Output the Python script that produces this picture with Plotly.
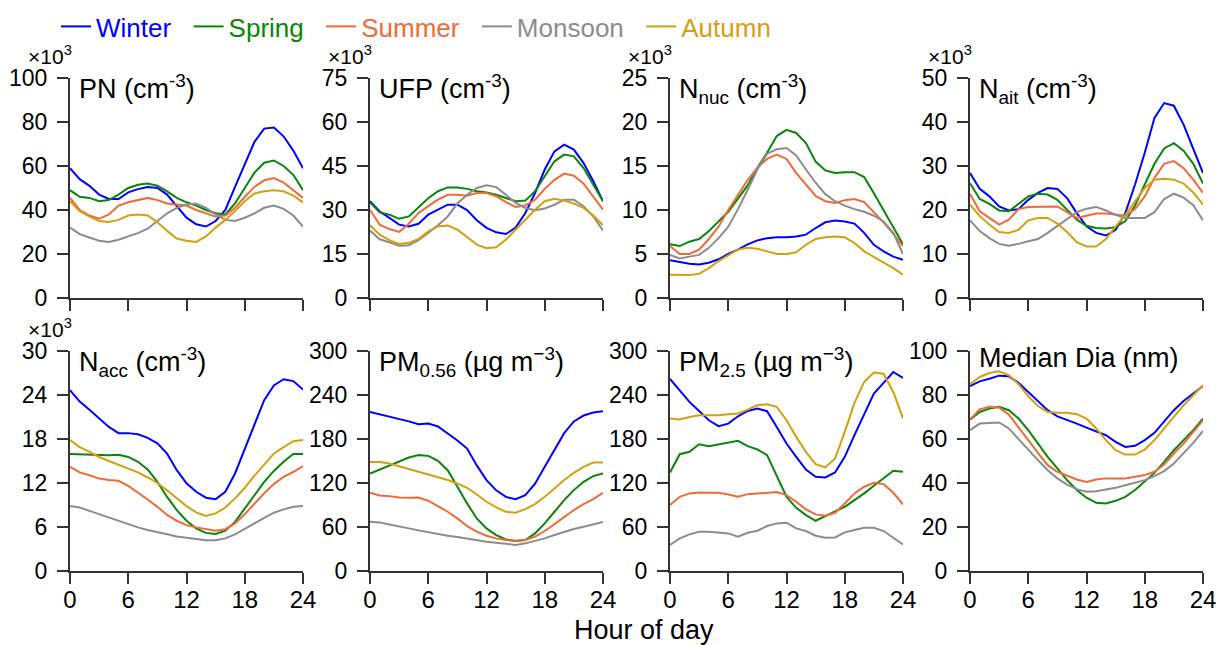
import plotly.graph_objects as go

HOURS = list(range(25))
SEASONS = ["Winter", "Spring", "Summer", "Monsoon", "Autumn"]
COLORS = ["#0000ff", "#0a850a", "#f06a38", "#8c8c8c", "#d4a010"]

PN_WINTER = [59,54,51,47,45,45,48,49.5,50.5,50,47,41.5,36.5,33.5,32.5,35,40,50.5,61,71,77,77.5,73.5,67,59]
PN_SPRING = [49,46,45.5,44,44.5,47,50,51.5,52,51,48.5,45.5,43.5,42,40,38.5,38,43,50,57,61.5,62.5,60,56,49]
PN_SUMMER = [45.5,40,37.5,36,38,42,43.5,44.5,45.5,44.5,43,42.5,42,40,38.5,37,37.5,41,46,50.5,53.5,54.5,52.5,49,45.5]
PN_MONSOON = [32,29,27.5,26,25.5,26.5,28,29.5,31.5,35,38.5,41,42.5,43,41,38,35.5,35,36.5,38.5,41,42,40.5,37.5,32.5]
PN_AUTUMN = [44,39.5,37,35,34.5,35.5,37.5,38,37.5,34.5,30.5,27,26,25.5,28,32,35.5,39.5,44,47.5,48.5,49,48.5,46.5,43.5]

UFP_WINTER = [33,29.5,27.3,25,24.4,25.3,28.4,30,31.8,31.8,30,26.5,23.9,22.4,21.8,24,29,35.8,43.8,50,52.3,50.6,46,39.8,33]
UFP_SPRING = [32.6,29.2,28.4,27,27.8,31,34,36.4,37.7,37.7,37.2,36.4,36,35.2,34,33,33.2,36.4,41.5,46.6,48.9,48.3,44.3,38.6,33]
UFP_SUMMER = [30.1,25,23.5,22.5,25.3,29,31.3,33.5,35.2,35.2,34.9,35.8,35.8,34.7,32.7,31,31.5,33.5,37.2,40.3,42.4,41.7,39,34.7,30.1]
UFP_MONSOON = [23,20,19,17.8,18,19.7,22.2,24.8,27.8,32.2,35.2,37.5,38.4,37.8,35.2,32.4,30.7,29.9,30.5,31.8,33.5,33.5,31.3,27.8,23]
UFP_AUTUMN = [24.8,21.6,19.7,18.4,18.8,20.1,22.7,24.4,24.7,23.3,20.8,18.2,17,17.3,19.9,23.3,26.7,30.1,33,33.8,33.2,32.2,30.7,28.1,24.8]

NNUC_WINTER = [4.3,4.1,3.9,3.8,4,4.4,5,5.5,6.1,6.55,6.8,6.9,6.9,7,7.2,7.95,8.6,8.8,8.7,8.45,7.4,6.05,5.3,4.7,4.35]
NNUC_SPRING = [6.1,5.9,6.4,6.7,7.6,8.7,9.8,11.3,12.8,14.8,16.5,18.4,19.1,18.75,17.6,15.5,14.5,14.2,14.3,14.3,13.75,11.9,10,8,6.1]
NNUC_SUMMER = [5.9,5,5,5.5,6.7,8.1,10,11.7,13.4,14.8,15.8,16.3,15.8,14.2,12.9,11.6,11,10.8,11.1,11.25,10.9,9.8,8.6,7.3,5.9]
NNUC_MONSOON = [4.9,4.5,4.7,4.9,5.7,6.8,8.1,10.1,12.3,14.6,16.4,16.9,17.05,16.2,14.6,13.1,11.8,11,10.5,10.1,9.8,9.35,8.7,7.4,5]
NNUC_AUTUMN = [2.65,2.6,2.6,2.75,3.4,4.2,4.9,5.5,5.7,5.6,5.3,5,5,5.2,6.05,6.7,6.9,7,6.9,6.25,5.3,4.65,4.05,3.4,2.65]

NAIT_WINTER = [28.4,24.8,23.1,20.8,19.9,20.2,22.3,23.9,25,24.8,22.7,19.3,16.3,14.8,14.2,15.5,19.3,25.8,33,40.9,44.3,43.7,39.4,34.1,28.4]
NAIT_SPRING = [26.1,22.5,21.4,19.9,19.7,21.4,23.1,23.7,23.5,22.3,20.1,17.8,16.4,15.9,15.8,16.1,17.5,21,25.8,30.5,34,35.2,33.5,30.5,26]
NAIT_SUMMER = [23.7,19.7,18.2,16.7,17.8,20.2,20.7,20.7,20.8,20.8,19.5,18.2,18.7,19.2,19.2,18.9,18.7,20.2,23.1,27.3,30.5,31.1,29.5,26.9,23.9]
NAIT_MONSOON = [17.65,15.2,13.6,12.3,11.9,12.3,12.9,13.4,14.8,16.3,17.8,19.5,20.3,20.7,19.9,18.9,18.2,18.2,18.2,19.5,22.5,23.7,22.8,21.1,17.65]
NAIT_AUTUMN = [21.2,18.6,16.7,15,14.8,15.5,17.65,18.2,18.2,16.9,15,12.7,11.7,11.7,13.4,16.3,18.9,22,25,26.9,27.1,26.9,26,24,21.2]

NACC_WINTER = [24.65,23.1,22,20.8,19.65,18.8,18.8,18.65,18.15,17.4,16,13.75,11.95,10.8,10,9.8,10.8,13.3,16.7,20.1,23.3,25.3,26.15,25.9,24.75]
NACC_SPRING = [15.95,15.9,15.95,15.8,15.8,15.85,15.55,14.9,13.85,12.15,10.1,8.3,6.85,5.8,5.2,5.05,5.5,6.7,8.55,10.35,12.15,13.65,14.9,15.95,15.95]
NACC_SUMMER = [14.2,13.45,13.05,12.6,12.4,12.3,11.6,10.7,9.75,8.75,7.65,6.85,6.25,5.95,5.7,5.5,5.7,6.5,7.75,9.2,10.6,11.85,12.85,13.5,14.3]
NACC_MONSOON = [8.85,8.65,8.2,7.75,7.25,6.8,6.35,5.95,5.6,5.25,5,4.7,4.5,4.35,4.2,4.2,4.45,5,5.7,6.5,7.25,7.95,8.4,8.75,8.85]
NACC_AUTUMN = [17.85,16.9,16.25,15.55,15,14.45,14,13.45,12.75,12,11,9.9,8.85,8,7.5,7.85,8.65,9.9,11.35,13,14.55,16,16.9,17.7,17.85]

PM056_WINTER = [217,214,211,208,204,200,201,197,188,178,167,144,124,110,101,98,103.5,119,142,166,188,204,212,216,218]
PM056_SPRING = [133,138.5,144.4,148.9,154.8,158,157,150.3,137.5,114.8,92.2,71.7,58.1,49,43.1,40.8,42.2,51.3,64.9,80.8,96.7,110.3,121.6,129.4,133]
PM056_SUMMER = [106.7,103,102.1,100.3,99.9,100.3,95.8,88.5,80.8,71.7,61.3,53.6,48.1,44.5,42.2,41.3,42.2,46.8,54.5,64,74,83.1,91.2,98,106.7]
PM056_MONSOON = [67.2,66.3,63.5,60.4,58.1,55.4,52.7,50.4,48.1,46.3,44,41.8,39.9,38.6,36.8,35.4,37.7,40.9,44.5,49,53.6,57.2,60.4,63.5,66.7]
PM056_AUTUMN = [148.5,148.5,146.6,143,138.5,135.3,131.6,127.6,124,119.4,113.5,104.4,94.4,86.7,80.8,79.4,84.4,91.2,101.2,112.6,124,133.9,142,148,148]

PM25_WINTER = [262,246.5,230.6,218.3,205.6,197.5,201,211,218.3,221.5,217.9,196.5,173.8,155.7,138.4,128.5,127.6,134.4,155.7,185.2,214.7,242,256.5,271.4,263.3]
PM25_SPRING = [134.4,159.3,162.5,172.9,170.2,172.5,174.7,177.5,170.2,165.7,158,128.5,101.2,86.2,76.3,68.5,74.9,80.8,87.6,96.7,105.8,116.2,126.2,136.6,135.2]
PM25_SUMMER = [89.9,101.2,105.8,107.1,106.7,106.7,104.4,101.2,104.8,105.8,107.6,107.6,103.5,94.4,84,77.2,75.3,79.4,92.1,105.8,114.9,120.3,118.5,106.7,90.8]
PM25_MONSOON = [35.4,44.5,49.9,53.6,53.6,52.7,51.3,46.8,52.2,54.9,61.3,64.9,65.8,58.1,54.5,48.1,45.4,45.8,52.7,55.8,59,59,54.5,45.4,36.3]
PM25_AUTUMN = [207.9,206.5,210.1,212.4,212.4,212.4,213.8,214.7,220.1,226,227.4,223.8,205.6,182.9,162.5,145.7,141.2,153.4,189.7,229.2,257.8,270.5,269.1,244.2,207.9]

DIA_WINTER = [84,86.2,87.4,88.8,88.5,85.5,81.4,77.3,73.1,70.3,68.8,67,65.2,63.5,61.7,58.7,56.4,56.9,59.5,62.8,67.8,73.1,77.3,80.9,84.1]
DIA_SPRING = [68.8,72.3,73.8,74.6,73.1,69.3,64,57.9,51.9,46.6,41.3,36.8,33.3,31,30.7,31.9,33.7,36.8,40.5,44.6,49.6,54.9,59.5,64,69.3]
DIA_SUMMER = [68.8,73.5,74.6,74.3,71.1,65.5,59.5,53.7,48.1,45.1,43.3,41.6,40.5,41.6,42.1,42.1,42.1,42.8,43.6,45.1,48.4,53.4,57.9,63.2,68.5]
DIA_MONSOON = [64,67,67.3,67.5,64.8,60.2,55.2,50.4,45.8,42.1,39.3,37.2,36,36.3,37.1,37.8,39,40.2,41.3,43.1,45.4,48.9,53.4,58.2,63.7]
DIA_AUTUMN = [84.9,88.2,90,90.8,89,84.9,79.4,75,72.3,71.9,71.9,71.3,69.3,64.8,59.5,54.9,52.9,52.9,55.2,59.5,64.8,70.3,75.3,79.9,84.4]

PANEL_TITLES = [
    "PN (cm<sup>-3</sup>)",
    "UFP (cm<sup>-3</sup>)",
    "N<sub>nuc</sub> (cm<sup>-3</sup>)",
    "N<sub>ait</sub> (cm<sup>-3</sup>)",
    "N<sub>acc</sub> (cm<sup>-3</sup>)",
    "PM<sub>0.56</sub> (\u00b5g m<sup>\u22123</sup>)",
    "PM<sub>2.5</sub> (\u00b5g m<sup>\u22123</sup>)",
    "Median Dia (nm)",
]
Y_MAX = [100, 75, 25, 50, 30, 300, 300, 100]
Y_STEP = [20, 15, 5, 10, 6, 60, 60, 20]
SCALED = [True, True, True, True, True, False, False, False]
X_TICKS = [0, 6, 12, 18, 24]

PANELS = [
    [PN_WINTER, PN_SPRING, PN_SUMMER, PN_MONSOON, PN_AUTUMN],
    [UFP_WINTER, UFP_SPRING, UFP_SUMMER, UFP_MONSOON, UFP_AUTUMN],
    [NNUC_WINTER, NNUC_SPRING, NNUC_SUMMER, NNUC_MONSOON, NNUC_AUTUMN],
    [NAIT_WINTER, NAIT_SPRING, NAIT_SUMMER, NAIT_MONSOON, NAIT_AUTUMN],
    [NACC_WINTER, NACC_SPRING, NACC_SUMMER, NACC_MONSOON, NACC_AUTUMN],
    [PM056_WINTER, PM056_SPRING, PM056_SUMMER, PM056_MONSOON, PM056_AUTUMN],
    [PM25_WINTER, PM25_SPRING, PM25_SUMMER, PM25_MONSOON, PM25_AUTUMN],
    [DIA_WINTER, DIA_SPRING, DIA_SUMMER, DIA_MONSOON, DIA_AUTUMN],
]

W, H = 1218, 645
FONT = "Arial, Liberation Sans, sans-serif"
AX = "#333333"

col_px = [(70, 303), (370, 603), (670, 903), (970, 1203)]
row_px = [(78, 298), (351, 571)]

fig = go.Figure()
layout = dict(
    width=W, height=H, margin=dict(l=0, r=0, t=0, b=0, pad=0, autoexpand=False),
    paper_bgcolor="white", plot_bgcolor="white",
    font=dict(family=FONT, color="black"),
    showlegend=True,
    legend=dict(orientation="h", x=0.046, y=1 - 3 / H, xanchor="left", yanchor="top",
                font=dict(size=26, family=FONT), bgcolor="rgba(0,0,0,0)",
                borderwidth=0, tracegroupgap=0),
    annotations=[],
)

for i, series in enumerate(PANELS):
    r, c = divmod(i, 4)
    k = i + 1
    xs = "" if k == 1 else str(k)
    x0, x1 = col_px[c]
    y0, y1 = row_px[r]
    layout["xaxis" + xs] = dict(
        domain=[x0 / W, x1 / W], anchor="y" + xs, range=[0, 24],
        tickvals=X_TICKS, showticklabels=(r == 1), ticks="outside", ticklen=11,
        tickwidth=2, tickcolor=AX, showline=True, linecolor=AX, linewidth=2,
        showgrid=False, zeroline=False, tickfont=dict(size=24, family=FONT),
        ticklabelstandoff=-5, fixedrange=True, automargin=False,
    )
    layout["yaxis" + xs] = dict(
        domain=[1 - y1 / H, 1 - y0 / H], anchor="x" + xs, range=[0, Y_MAX[i]],
        tickvals=list(range(0, Y_MAX[i] + 1, Y_STEP[i])),
        ticks="outside", ticklen=11, tickwidth=2, tickcolor=AX,
        showline=True, linecolor=AX, linewidth=2, showgrid=False, zeroline=False,
        tickfont=dict(size=23, family=FONT), ticklabelstandoff=5,
        fixedrange=True, automargin=False,
    )
    for s, (name, color) in enumerate(zip(SEASONS, COLORS)):
        fig.add_trace(go.Scatter(
            x=HOURS, y=series[s], mode="lines",
            line=dict(color=color, width=2),
            name=f"<span style='color:{color}'>{name}</span>&nbsp;\u2009",
            legendgroup=name, showlegend=(i == 0),
            xaxis="x" + xs, yaxis="y" + xs, hoverinfo="skip",
        ))
    layout["annotations"].append(dict(
        text=PANEL_TITLES[i], xref=f"x{xs} domain", yref=f"y{xs} domain",
        x=0.03, y=1.045, xanchor="left", yanchor="top", showarrow=False,
        font=dict(size=27, family=FONT, color="black"),
    ))
    if SCALED[i]:
        layout["annotations"].append(dict(
            text="\u00d710<sup>3</sup>", xref=f"x{xs} domain", yref=f"y{xs} domain",
            x=0, y=1, xanchor="right", yanchor="bottom", xshift=3, yshift=9,
            borderpad=0, showarrow=False,
            font=dict(size=21, family=FONT, color="black"),
        ))

layout["annotations"].append(dict(
    text="Hour of day", xref="paper", yref="paper", x=644 / W, y=1 - 630 / H,
    xanchor="center", yanchor="middle", showarrow=False,
    font=dict(size=27, family=FONT, color="black"),
))

fig.update_layout(**layout)
fig.write_html("out.html", config={"displayModeBar": False})
